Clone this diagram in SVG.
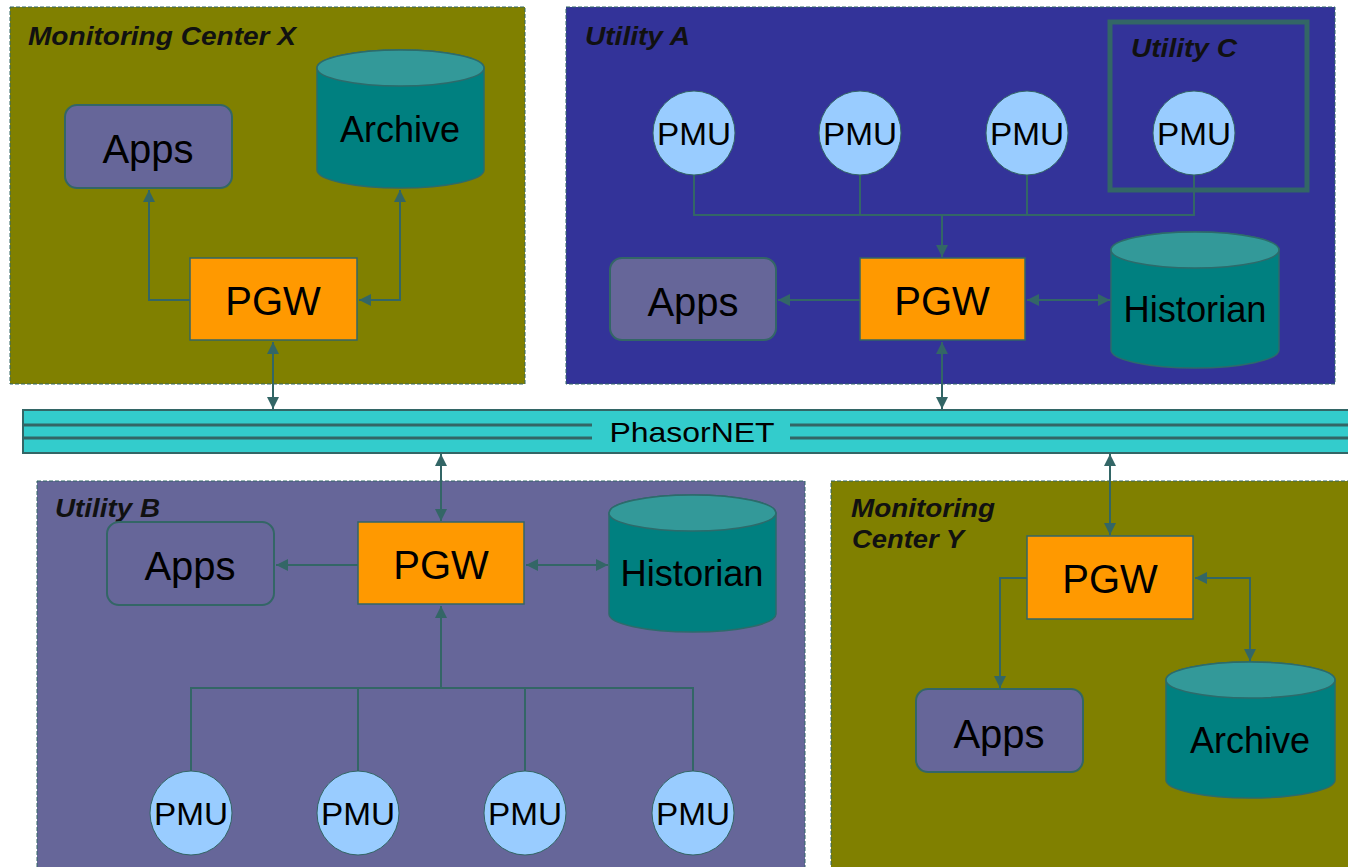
<svg xmlns="http://www.w3.org/2000/svg" width="1348" height="867" viewBox="0 0 1348 867">
<defs>
<marker id="ah" viewBox="0 0 10 10" refX="10" refY="5" markerWidth="12" markerHeight="12" markerUnits="userSpaceOnUse" orient="auto-start-reverse"><path d="M0,0 L10,5 L0,10 Z" fill="#336666"/></marker>
</defs>
<style>
.region{stroke:#336666;stroke-width:1;stroke-dasharray:4,2}
.olive{fill:#808000}
.title{font-family:"Liberation Sans",Arial,sans-serif;font-weight:bold;font-style:italic;font-size:26px;fill:#111}
.apps{fill:#666699;stroke:#336666;stroke-width:2}
.pgw{fill:#FF9900;stroke:#336666;stroke-width:1.5}
.cylb{fill:#008080;stroke:#2d6b6b;stroke-width:1.5}
.cylt{fill:#339999;stroke:#2d6b6b;stroke-width:1.5}
.pmu{fill:#99CCFF;stroke:#336666;stroke-width:1}
.lbl{font-family:"Liberation Sans",Arial,sans-serif;fill:#000;text-anchor:middle}
.big{font-size:40px}
.mid{font-size:36px}
.pm{font-size:32px}
.conn{fill:none;stroke:#336666;stroke-width:2}
.bar{stroke:#336666;stroke-width:3}
</style>

<g id="monitoring-center-x">
<rect class="region olive" x="10" y="7" width="515" height="377"/>
<text class="title" x="28" y="45" textLength="268" lengthAdjust="spacingAndGlyphs">Monitoring Center X</text>
</g>
<g id="utility-a">
<rect class="region" x="566" y="7" width="769" height="377" fill="#333399"/>
<text class="title" x="585" y="45" textLength="105" lengthAdjust="spacingAndGlyphs">Utility A</text>
</g>
<g id="utility-c">
<rect x="1110" y="22" width="197" height="168" fill="none" stroke="#336666" stroke-width="5"/>
<text class="title" x="1131" y="57" textLength="106" lengthAdjust="spacingAndGlyphs">Utility C</text>
</g>
<g id="utility-b">
<rect class="region" x="37" y="481" width="768" height="400" fill="#666699"/>
<text class="title" x="55" y="517" textLength="105" lengthAdjust="spacingAndGlyphs">Utility B</text>
</g>
<g id="monitoring-center-y">
<rect class="region olive" x="831" y="481" width="530" height="400"/>
<text class="title" x="851" y="517" textLength="144" lengthAdjust="spacingAndGlyphs">Monitoring</text>
<text class="title" x="852" y="548" textLength="112" lengthAdjust="spacingAndGlyphs">Center Y</text>
</g>

<g id="phasornet">
<rect x="23" y="410" width="1340" height="43" fill="#33CCCC" stroke="#336666" stroke-width="2"/>
<line class="bar" x1="23" y1="425" x2="592" y2="425"/>
<line class="bar" x1="23" y1="438" x2="592" y2="438"/>
<line class="bar" x1="790" y1="425" x2="1348" y2="425"/>
<line class="bar" x1="790" y1="438" x2="1348" y2="438"/>
<text class="lbl" x="692" y="442" font-size="28" fill="#1a3333" textLength="165" lengthAdjust="spacingAndGlyphs">PhasorNET</text>
</g>

<g id="x-apps"><rect class="apps" x="65" y="105" width="167" height="83" rx="12"/><text class="lbl big" x="148" y="163">Apps</text></g>
<g id="x-archive">
<path class="cylb" d="M317,68 A83.5,18 0 0 1 484,68 V170 A83.5,18 0 0 1 317,170 Z"/>
<ellipse class="cylt" cx="400.5" cy="68" rx="83.5" ry="18"/>
<text class="lbl mid" x="400" y="142">Archive</text>
</g>
<g id="x-pgw"><rect class="pgw" x="190" y="258" width="167" height="82"/><text class="lbl big" x="273" y="315">PGW</text></g>

<g id="a-pmu1"><ellipse class="pmu" cx="694" cy="133" rx="41" ry="42"/><text class="lbl pm" x="694" y="145" textLength="74" lengthAdjust="spacingAndGlyphs">PMU</text></g>
<g id="a-pmu2"><ellipse class="pmu" cx="860" cy="133" rx="41" ry="42"/><text class="lbl pm" x="860" y="145" textLength="74" lengthAdjust="spacingAndGlyphs">PMU</text></g>
<g id="a-pmu3"><ellipse class="pmu" cx="1027" cy="133" rx="41" ry="42"/><text class="lbl pm" x="1027" y="145" textLength="74" lengthAdjust="spacingAndGlyphs">PMU</text></g>
<g id="c-pmu"><ellipse class="pmu" cx="1194" cy="133" rx="41" ry="42"/><text class="lbl pm" x="1194" y="145" textLength="74" lengthAdjust="spacingAndGlyphs">PMU</text></g>
<g id="a-apps"><rect class="apps" x="610" y="258" width="166" height="82" rx="12"/><text class="lbl big" x="693" y="316">Apps</text></g>
<g id="a-pgw"><rect class="pgw" x="860" y="258" width="165" height="82"/><text class="lbl big" x="942" y="315">PGW</text></g>
<g id="a-historian">
<path class="cylb" d="M1111,250 A84,18 0 0 1 1279,250 V350 A84,18 0 0 1 1111,350 Z"/>
<ellipse class="cylt" cx="1195" cy="250" rx="84" ry="18"/>
<text class="lbl mid" x="1195" y="322" textLength="143" lengthAdjust="spacingAndGlyphs">Historian</text>
</g>

<g id="b-apps"><rect x="107" y="522" width="167" height="83" rx="12" fill="none" stroke="#336666" stroke-width="2"/><text class="lbl big" x="190" y="580">Apps</text></g>
<g id="b-pgw"><rect class="pgw" x="358" y="522" width="166" height="82"/><text class="lbl big" x="441" y="579">PGW</text></g>
<g id="b-historian">
<path class="cylb" d="M609,513 A83.5,18 0 0 1 776,513 V614 A83.5,18 0 0 1 609,614 Z"/>
<ellipse class="cylt" cx="692.5" cy="513" rx="83.5" ry="18"/>
<text class="lbl mid" x="692" y="586" textLength="143" lengthAdjust="spacingAndGlyphs">Historian</text>
</g>
<g id="b-pmu1"><ellipse class="pmu" cx="191" cy="813" rx="41" ry="42"/><text class="lbl pm" x="191" y="825" textLength="74" lengthAdjust="spacingAndGlyphs">PMU</text></g>
<g id="b-pmu2"><ellipse class="pmu" cx="358" cy="813" rx="41" ry="42"/><text class="lbl pm" x="358" y="825" textLength="74" lengthAdjust="spacingAndGlyphs">PMU</text></g>
<g id="b-pmu3"><ellipse class="pmu" cx="525" cy="813" rx="41" ry="42"/><text class="lbl pm" x="525" y="825" textLength="74" lengthAdjust="spacingAndGlyphs">PMU</text></g>
<g id="b-pmu4"><ellipse class="pmu" cx="693" cy="813" rx="41" ry="42"/><text class="lbl pm" x="693" y="825" textLength="74" lengthAdjust="spacingAndGlyphs">PMU</text></g>

<g id="y-pgw"><rect class="pgw" x="1027" y="536" width="166" height="83"/><text class="lbl big" x="1110" y="593">PGW</text></g>
<g id="y-apps"><rect class="apps" x="916" y="689" width="167" height="83" rx="12"/><text class="lbl big" x="999" y="748">Apps</text></g>
<g id="y-archive">
<path class="cylb" d="M1166,680 A84.5,18 0 0 1 1335,680 V780 A84.5,18 0 0 1 1166,780 Z"/>
<ellipse class="cylt" cx="1250.5" cy="680" rx="84.5" ry="18"/>
<text class="lbl mid" x="1250" y="753">Archive</text>
</g>

<g id="connectors">
<path class="conn" d="M190,300 H149 V190" marker-end="url(#ah)"/>
<path class="conn" d="M400,190 V300 H359" marker-start="url(#ah)" marker-end="url(#ah)"/>
<path class="conn" d="M273,342 V409" marker-start="url(#ah)" marker-end="url(#ah)"/>
<path class="conn" d="M694,175 V215 H1194 V175 M860,175 V215 M1027,175 V215"/>
<path class="conn" d="M942,215 V257" marker-end="url(#ah)"/>
<path class="conn" d="M860,300 H778" marker-end="url(#ah)"/>
<path class="conn" d="M1027,300 H1110" marker-start="url(#ah)" marker-end="url(#ah)"/>
<path class="conn" d="M942,342 V409" marker-start="url(#ah)" marker-end="url(#ah)"/>
<path class="conn" d="M441,454 V521" marker-start="url(#ah)" marker-end="url(#ah)"/>
<path class="conn" d="M358,565 H276" marker-end="url(#ah)"/>
<path class="conn" d="M526,565 H608" marker-start="url(#ah)" marker-end="url(#ah)"/>
<path class="conn" d="M191,771 V688 H693 V771 M358,771 V688 M525,771 V688"/>
<path class="conn" d="M441,688 V606" marker-end="url(#ah)"/>
<path class="conn" d="M1110,454 V535" marker-start="url(#ah)" marker-end="url(#ah)"/>
<path class="conn" d="M1027,578 H1000 V688" marker-end="url(#ah)"/>
<path class="conn" d="M1195,578 H1250 V661" marker-start="url(#ah)" marker-end="url(#ah)"/>
</g>
</svg>
